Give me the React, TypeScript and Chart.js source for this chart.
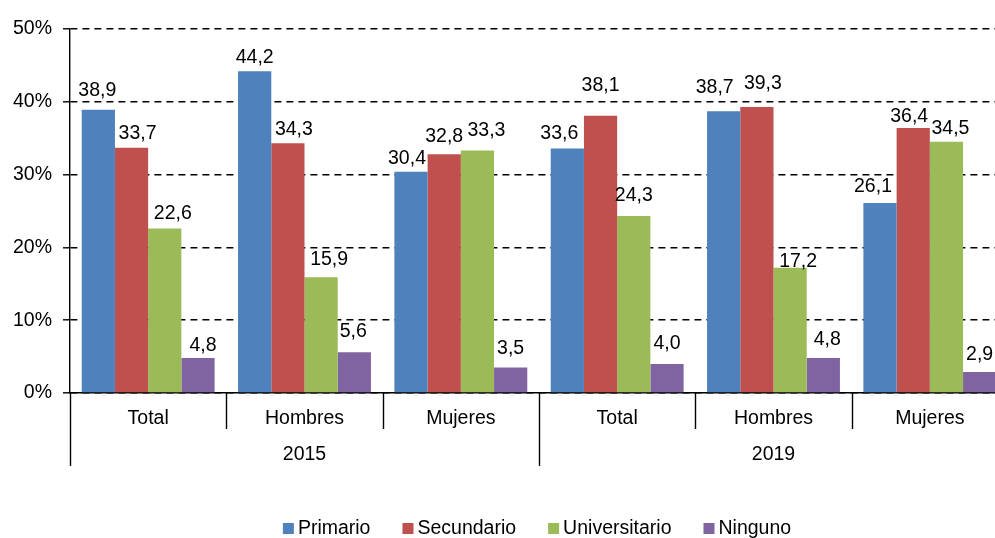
import React, { useEffect, useRef } from 'react';
import { Chart, registerables } from 'chart.js';

Chart.register(...registerables);

// ---- data ----
const categories = ['Total', 'Hombres', 'Mujeres', 'Total', 'Hombres', 'Mujeres'];
const years = ['2015', '2019'];
const seriesNames = ['Primario', 'Secundario', 'Universitario', 'Ninguno'];
const primario = [38.9, 44.2, 30.4, 33.6, 38.7, 26.1];
const secundario = [33.7, 34.3, 32.8, 38.1, 39.3, 36.4];
const universitario = [22.6, 15.9, 33.3, 24.3, 17.2, 34.5];
const ninguno = [4.8, 5.6, 3.5, 4.0, 4.8, 2.9];
const yTickValues = [0, 10, 20, 30, 40, 50];

// ---- style ----
const FONT = '"Liberation Sans", Arial, Helvetica, sans-serif';
const FS = 19.5;
const colors = ['#4F81BD', '#C0504D', '#9BBB59', '#8064A2'];
// manual label nudges (dx, dy from bar top) as placed in the original
const labelNudge: number[][][] = [
  [[-1, -21], [0, -15], [-4, -15], [-8, -16], [-9, -25], [-7, -18]],
  [[6, -16], [6, -15], [0, -19], [0, -32], [6, -25], [-4, -13]],
  [[8, -16], [8, -19], [9, -22], [0, -22], [8, -8], [4, -15]],
  [[5, -14], [-1, -22], [0, -21], [0, -22], [4, -20], [0, -19]],
];

export default function App() {
  const ref = useRef<HTMLCanvasElement>(null);

  useEffect(() => {
    const canvas = ref.current;
    if (!canvas) return;

    const valueLabels = {
      id: 'valueLabels',
      afterDatasetsDraw(chart: any) {
        const ctx = chart.ctx;
        ctx.save();
        ctx.font = `${FS}px ${FONT}`;
        ctx.fillStyle = '#000';
        ctx.textAlign = 'center';
        ctx.textBaseline = 'alphabetic';
        chart.data.datasets.forEach((ds: any, di: number) => {
          const meta = chart.getDatasetMeta(di);
          meta.data.forEach((el: any, i: number) => {
            const v = ds.data[i] as number;
            const [dx, dy] = labelNudge[di][i];
            ctx.fillText(v.toFixed(1).replace('.', ','), el.x + dx, el.y + dy + 0.358 * FS);
          });
        });
        ctx.restore();
      },
    };

    const groupAxis = {
      id: 'groupAxis',
      afterDraw(chart: any) {
        const ctx = chart.ctx;
        const xs = chart.scales.x;
        const base = xs.top;
        ctx.save();
        ctx.strokeStyle = '#000';
        ctx.lineWidth = 1.4;
        for (let i = 0; i <= categories.length; i++) {
          const px = Math.round(xs.getPixelForValue(i - 0.5)) + 0.5;
          const long = i % 3 === 0;
          ctx.beginPath();
          ctx.moveTo(px, base);
          ctx.lineTo(px, base + (long ? 73 : 36));
          ctx.stroke();
        }
        ctx.fillStyle = '#000';
        ctx.font = `${FS}px ${FONT}`;
        ctx.textAlign = 'center';
        ctx.textBaseline = 'alphabetic';
        categories.forEach((c, i) => {
          ctx.fillText(c, xs.getPixelForValue(i), base + 31);
        });
        years.forEach((y, g) => {
          ctx.fillText(y, xs.getPixelForValue(g * 3 + 1), base + 67);
        });

        // legend
        const ca = chart.chartArea;
        const center = (ca.left + ca.right) / 2 - 2;
        const box = 11;
        const gapBoxText = 4;
        const itemGap = 32;
        const widths = chart.data.datasets.map((d: any) => ctx.measureText(d.label).width);
        const total =
          widths.reduce((a: number, w: number) => a + box + gapBoxText + w, 0) +
          itemGap * (widths.length - 1);
        let x = center - total / 2;
        const baseline = 534;
        ctx.textAlign = 'left';
        chart.data.datasets.forEach((d: any, i: number) => {
          ctx.fillStyle = d.backgroundColor;
          ctx.fillRect(x, baseline - 11, box, box);
          ctx.fillStyle = '#000';
          ctx.fillText(d.label, x + box + gapBoxText, baseline);
          x += box + gapBoxText + widths[i] + itemGap;
        });
        ctx.restore();
      },
    };

    const seriesData = [primario, secundario, universitario, ninguno];

    const chart = new Chart(canvas, {
      type: 'bar',
      data: {
        labels: categories,
        datasets: seriesNames.map((name, i) => ({
          label: name,
          data: seriesData[i],
          backgroundColor: colors[i],
          borderWidth: 0,
        })),
      },
      options: {
        responsive: true,
        maintainAspectRatio: false,
        animation: false,
        layout: { padding: { top: 29, right: 2, bottom: 0, left: 0 } },
        datasets: { bar: { categoryPercentage: 0.85, barPercentage: 1 } } as any,
        plugins: {
          legend: { display: false },
          tooltip: { enabled: false },
        },
        scales: {
          x: {
            grid: { display: false },
            border: { display: true, color: '#000', width: 1.6 },
            ticks: { display: false },
            afterFit: (s: any) => {
              s.height = 145;
            },
          },
          y: {
            min: 0,
            max: 50,
            afterFit: (s: any) => {
              s.width = 70;
            },
            afterBuildTicks: (s: any) => {
              s.ticks = yTickValues.map((v) => ({ value: v }));
            },
            ticks: {
              padding: 11,
              color: '#000',
              font: { family: FONT, size: FS },
              callback: (v: any) => `${v}%`,
            },
            grid: {
              color: '#000',
              lineWidth: 1.6,
              tickLength: 7,
              tickColor: '#000',
              tickWidth: 1.4,
            },
            border: { color: '#000', width: 1.4, dash: [7, 5] },
          },
        },
      },
      plugins: [valueLabels, groupAxis],
    });

    return () => chart.destroy();
  }, []);

  return (
    <div
      style={{
        position: 'fixed',
        left: 0,
        top: 0,
        width: 995,
        height: 538,
        overflow: 'hidden',
        background: '#fff',
      }}
    >
      <div style={{ position: 'relative', width: 1010, height: 538 }}>
        <canvas ref={ref} />
      </div>
    </div>
  );
}
